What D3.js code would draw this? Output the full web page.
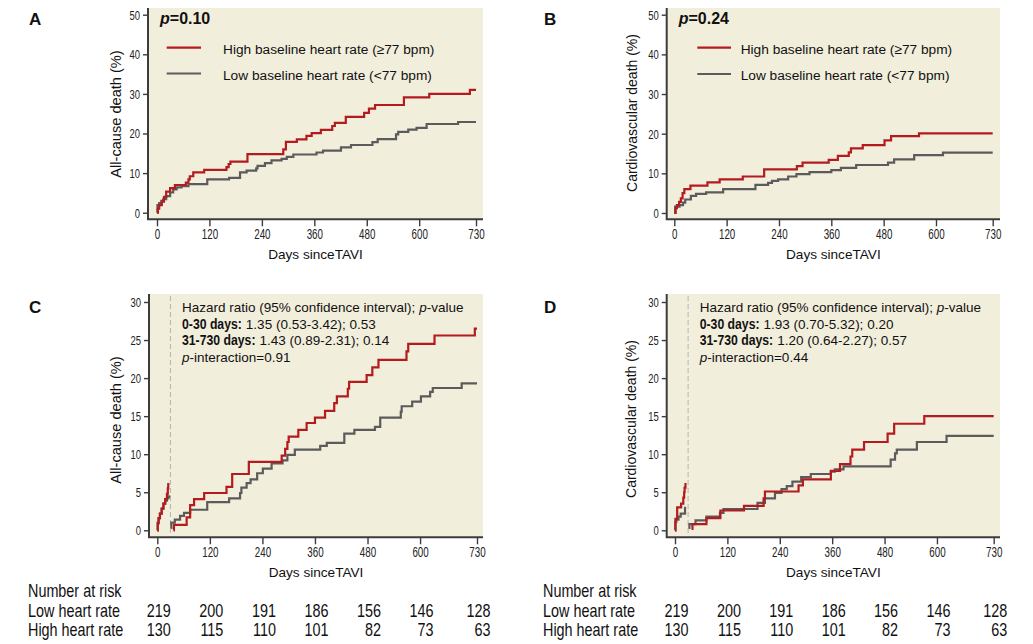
<!DOCTYPE html>
<html><head><meta charset="utf-8">
<script src="https://cdn.jsdelivr.net/npm/d3@7"></script>
<style>
body{margin:0;background:#fff;}
svg{display:block;}
</style></head><body>
<svg id="c" width="1033" height="644"></svg>
<script>
// ---------- data ----------
const dayTicks = [0, 120, 240, 360, 480, 600, 730];
const pctTicksTop = [0, 10, 20, 30, 40, 50];
const pctTicksBottom = [0, 5, 10, 15, 20, 25, 30];

// Panel A: all-cause death (%), [day, cumulative %]
const allCauseHigh = [[0,0],[2,1.0],[5,1.9],[11,2.8],[16,4.0],[21,5.3],[30,6.2],[41,7.0],[66,7.6],[72,8.4],[75,9.2],[83,10.2],[108,10.8],[159,11.5],[164,12.3],[168,12.9],[207,14.8],[289,16.0],[295,17.9],[320,18.5],[342,19.4],[354,20.1],[375,20.9],[401,21.9],[407,22.7],[432,24.2],[474,25.2],[485,26.3],[499,27.2],[565,29.1],[623,30.0],[716,31.0],[730,31.0]];
const allCauseLow = [[0,0],[1,1.9],[5,2.4],[10,3.0],[14,3.4],[21,4.2],[30,5.1],[37,5.9],[45,6.4],[56,6.7],[72,7.2],[115,8.4],[165,8.8],[190,10.2],[205,10.6],[227,11.2],[230,11.8],[247,12.5],[262,13.2],[285,13.6],[297,14.1],[312,14.7],[365,15.2],[380,15.7],[421,16.5],[444,17.1],[493,17.8],[505,18.6],[547,19.8],[552,20.4],[575,21.0],[594,21.4],[617,22.4],[689,22.9],[730,22.9]];

// Panel B: cardiovascular death (%)
const cvHigh = [[0,0],[3,1.2],[6,2.0],[11,2.8],[15,3.7],[19,5.0],[23,6.0],[37,6.9],[76,7.7],[104,8.5],[157,9.2],[206,11.0],[281,11.8],[294,12.7],[354,13.4],[375,14.4],[400,15.3],[405,16.3],[432,17.1],[482,18.3],[497,19.4],[561,20.1],[730,20.1]];
const cvLow = [[0,0],[2,1.6],[12,2.0],[20,2.6],[25,3.4],[38,4.3],[50,4.8],[73,5.2],[112,6.0],[186,7.1],[215,7.6],[224,8.1],[238,8.5],[261,9.2],[280,9.8],[310,10.3],[360,10.8],[382,11.4],[417,12.1],[490,12.7],[504,13.5],[550,14.6],[616,15.2],[730,15.2]];

// Panel C: landmark all-cause death (%), 0-30 and 31-730 days
const lmAllHighEarly = [[0,0],[1,0.9],[3,1.6],[6,2.2],[10,2.9],[14,3.5],[18,4.1],[22,4.8],[24,5.5],[25,6.2]];
const lmAllLowEarly = [[0,0],[1,1.0],[3,1.6],[6,2.2],[10,2.8],[14,3.5],[18,3.9],[22,4.2],[25,4.4],[27,4.6]];
const lmAllHighLate = [[37,0],[38,0.7],[67,1.7],[75,3.3],[84,4.1],[107,4.9],[158,5.7],[171,7.4],[209,9.0],[284,9.8],[292,10.7],[297,11.6],[300,12.3],[322,13.2],[341,14.1],[360,14.8],[383,15.7],[404,16.7],[410,17.6],[435,18.6],[438,19.5],[478,20.4],[491,21.4],[505,22.4],[569,23.5],[573,24.5],[633,25.6],[725,26.5],[730,26.5]];
const lmAllLowLate = [[31,0.3],[32,1.0],[40,1.4],[52,1.9],[61,2.3],[75,2.7],[114,3.7],[164,4.2],[189,4.9],[192,5.6],[204,6.2],[213,6.7],[228,7.5],[241,8.1],[261,8.8],[286,9.2],[297,9.9],[314,10.6],[372,11.1],[387,11.5],[427,12.7],[450,13.2],[497,13.6],[509,14.8],[556,15.6],[558,16.3],[582,16.9],[602,17.6],[623,18.2],[629,18.7],[695,19.3],[730,19.3]];

// Panel D: landmark cardiovascular death (%)
const lmCvHighEarly = [[0,0],[1,1.5],[5,3.0],[14,3.5],[19,4.3],[21,5.0],[22,5.6],[24,6.2]];
const lmCvLowEarly = [[0,0],[1,1.1],[3,1.4],[8,1.8],[13,2.2],[23,3.1]];
const lmCvHighLate = [[38,0.2],[40,0.8],[72,1.6],[104,2.6],[158,3.2],[203,4.2],[206,5.1],[283,5.9],[293,6.7],[357,7.8],[378,8.7],[402,9.7],[406,10.6],[433,11.6],[487,12.7],[502,14.0],[571,15.0],[730,15.0]];
const lmCvLowLate = [[31,0.3],[33,0.8],[47,1.3],[72,1.8],[103,2.3],[111,2.8],[189,3.6],[206,4.2],[229,4.9],[244,5.4],[256,5.8],[269,6.4],[289,7.0],[311,7.4],[357,7.7],[366,8.0],[386,8.4],[494,9.3],[504,10.1],[508,10.6],[554,11.6],[622,12.4],[730,12.4]];

// Number at risk
const riskTimes = [0, 120, 240, 360, 480, 600, 730];
const riskLow = [219, 200, 191, 186, 156, 146, 128];
const riskHigh = [130, 115, 110, 101, 82, 73, 63];

const legendLabels = ["High baseline heart rate (\u226577 bpm)", "Low baseline heart rate (<77 bpm)"];

// ---------- style ----------
const RED = "#b31b1f", GRAY = "#5b5b5b", BG = "#f2eedc", AX = "#3c3c3c";
const REG = "'Liberation Sans',Arial,sans-serif";
const TICK_SX = 0.7, TABLE_SX = 0.8;

const svg = d3.select("#c");

// horizontally condensed text
function cText(parent, x, y, str, size, sx, anchor, bold) {
  const g = parent.append("g").attr("transform", `translate(${x},${y}) scale(${sx},1)`);
  const t = g.append("text").attr("font-family", REG).attr("font-size", size).attr("fill", "#111")
    .attr("text-anchor", anchor || "start").attr("font-weight", bold ? "bold" : "normal").text(str);
  return t;
}

function panel(cfg) {
  const g = svg.append("g");
  const x = d3.scaleLinear().domain([0, 730]).range([cfg.x0, cfg.x1]);
  const y = d3.scaleLinear().domain([0, cfg.ymax]).range([cfg.y0, cfg.y1]);

  g.append("rect").attr("x", cfg.L).attr("y", cfg.T)
    .attr("width", cfg.R - cfg.L).attr("height", cfg.B - cfg.T).attr("fill", BG);

  if (cfg.landmark) {
    g.append("line").attr("x1", x(30)).attr("x2", x(30)).attr("y1", cfg.T + 2).attr("y2", cfg.B)
      .attr("stroke", "#b4b4b4").attr("stroke-width", 1).attr("stroke-dasharray", "5,3");
  }

  const xa = g.append("g").attr("transform", `translate(0,${cfg.B})`)
    .call(d3.axisBottom(x).tickValues(dayTicks).tickSize(7).tickSizeOuter(0).tickPadding(3));
  xa.select(".domain").remove();
  xa.selectAll("line").attr("stroke", AX).attr("stroke-width", 1.4);
  xa.selectAll("text").attr("font-family", REG).attr("font-size", 14).attr("fill", "#222")
    .attr("transform", `scale(${TICK_SX},1)`);

  const ya = g.append("g").attr("transform", `translate(${cfg.L},0)`)
    .call(d3.axisLeft(y).tickValues(cfg.yticks).tickSize(5).tickSizeOuter(0).tickPadding(3));
  ya.select(".domain").remove();
  ya.selectAll("line").attr("stroke", AX).attr("stroke-width", 1.4);
  ya.selectAll("text").attr("font-family", REG).attr("font-size", 13.5).attr("fill", "#222")
    .attr("x", -8 / TICK_SX).attr("transform", `scale(${TICK_SX},1)`);

  g.append("path").attr("d", `M${cfg.L},${cfg.T}V${cfg.B}H${cfg.R}`)
    .attr("fill", "none").attr("stroke", AX).attr("stroke-width", 2);

  const line = d3.line().x(d => x(d[0])).y(d => y(d[1])).curve(d3.curveStepAfter);
  cfg.series.forEach(s => {
    g.append("path").attr("d", line(s.data)).attr("fill", "none")
      .attr("stroke", s.color).attr("stroke-width", 2.2);
  });

  // axis titles
  g.append("text").attr("x", (cfg.L + cfg.R) / 2).attr("y", cfg.B + 40)
    .attr("text-anchor", "middle").attr("font-family", REG).attr("font-size", 13.6).attr("fill", "#111")
    .text("Days sinceTAVI");
  g.append("text").attr("transform", `translate(${cfg.ytX},${cfg.ytY}) rotate(-90)`)
    .attr("text-anchor", "middle").attr("font-family", REG).attr("font-size", cfg.ytSize).attr("fill", "#111")
    .text(cfg.ytitle);

  // panel letter
  g.append("text").attr("x", cfg.letterX).attr("y", cfg.letterY)
    .attr("font-family", REG).attr("font-weight", "bold").attr("font-size", 17).attr("fill", "#111")
    .text(cfg.letter);

  if (cfg.pval) {
    const t = g.append("text").attr("x", cfg.L + 12).attr("y", cfg.T + 16)
      .attr("font-family", REG).attr("font-weight", "bold").attr("font-size", 16).attr("fill", "#111");
    t.append("tspan").attr("font-style", "italic").text("p");
    t.append("tspan").text("=" + cfg.pval);

    legendLabels.forEach((lab, i) => {
      const ly = cfg.legY[i];
      g.append("line").attr("x1", cfg.L + cfg.legL0).attr("x2", cfg.L + cfg.legL1)
        .attr("y1", ly).attr("y2", ly).attr("stroke", i === 0 ? RED : GRAY).attr("stroke-width", 2.2);
      g.append("text").attr("x", cfg.L + cfg.legT).attr("y", ly + 6)
        .attr("font-family", REG).attr("font-size", 13.7).attr("fill", "#111").text(lab);
    });
  }

  if (cfg.hr) {
    const bx = cfg.L + 33, by = cfg.T + 18, dy = 16.6;
    const t0 = g.append("text").attr("x", bx).attr("y", by).attr("font-family", REG).attr("font-size", 13.5).attr("fill", "#111");
    t0.append("tspan").text("Hazard ratio (95% confidence interval); ");
    t0.append("tspan").attr("font-style", "italic").text("p");
    t0.append("tspan").text("-value");
    cfg.hr.forEach((r, i) => {
      const yy = by + dy * (i + 1);
      const bsx = 0.875;
      const bt = cText(g, bx, yy, r[0], 14, bsx, "start", true);
      const w = bt.node().getComputedTextLength() * bsx;
      g.append("text").attr("x", bx + w + 4).attr("y", yy).attr("font-family", REG)
        .attr("font-size", 13.5).attr("fill", "#111").text(r[1]);
    });
    const t3 = g.append("text").attr("x", bx).attr("y", by + dy * 3).attr("font-family", REG).attr("font-size", 13.5).attr("fill", "#111");
    t3.append("tspan").attr("font-style", "italic").text("p");
    t3.append("tspan").text("-interaction=" + cfg.pint);
  }

  if (cfg.risk) {
    const rx = cfg.letterX - 1;
    const rows = [["Number at risk", null, 596.5], ["Low heart rate", riskLow, 617], ["High heart rate", riskHigh, 636]];
    rows.forEach(r => {
      cText(g, rx, r[2], r[0], 18, TABLE_SX, "start");
      if (r[1]) {
        r[1].forEach((v, i) => cText(g, x(riskTimes[i]) + 13.5, r[2], String(v), 18, TABLE_SX, "end"));
      }
    });
  }
}

panel({letter: "A", letterX: 29, letterY: 25, L: 148, R: 483, T: 8, B: 219.3,
  x0: 157, x1: 476, y0: 212.7, y1: 14.7, ymax: 50, yticks: pctTicksTop,
  ytitle: "All-cause death (%)", ytX: 121, ytY: 114, ytSize: 14.6, pval: "0.10",
  legL0: 18.7, legL1: 53, legT: 75, legY: [47.7, 73.5],
  series: [{data: allCauseLow, color: GRAY}, {data: allCauseHigh, color: RED}]});

panel({letter: "B", letterX: 544, letterY: 25, L: 666.7, R: 1000, T: 8, B: 219.3,
  x0: 674.3, x1: 992.7, y0: 213, y1: 14.7, ymax: 50, yticks: pctTicksTop,
  ytitle: "Cardiovascular death (%)", ytX: 636.5, ytY: 113, ytSize: 14, pval: "0.24",
  legL0: 30.6, legL1: 64.3, legT: 74, legY: [47.7, 74],
  series: [{data: cvLow, color: GRAY}, {data: cvHigh, color: RED}]});

panel({letter: "C", letterX: 29, letterY: 313, L: 149, R: 483, T: 294, B: 537.3,
  x0: 157.3, x1: 477, y0: 530.3, y1: 302, ymax: 30, yticks: pctTicksBottom,
  ytitle: "All-cause death (%)", ytX: 120.5, ytY: 420, ytSize: 14.6, landmark: true, risk: true,
  hr: [["0-30 days:", "1.35 (0.53-3.42); 0.53"], ["31-730 days:", "1.43 (0.89-2.31); 0.14"]], pint: "0.91",
  series: [{data: lmAllLowEarly, color: GRAY}, {data: lmAllHighEarly, color: RED},
           {data: lmAllLowLate, color: GRAY}, {data: lmAllHighLate, color: RED}]});

panel({letter: "D", letterX: 544, letterY: 313, L: 666.7, R: 1000, T: 294, B: 537.3,
  x0: 675, x1: 993.7, y0: 530.3, y1: 302, ymax: 30, yticks: pctTicksBottom,
  ytitle: "Cardiovascular death (%)", ytX: 636, ytY: 419, ytSize: 14, landmark: true, risk: true,
  hr: [["0-30 days:", "1.93 (0.70-5.32); 0.20"], ["31-730 days:", "1.20 (0.64-2.27); 0.57"]], pint: "0.44",
  series: [{data: lmCvLowEarly, color: GRAY}, {data: lmCvHighEarly, color: RED},
           {data: lmCvLowLate, color: GRAY}, {data: lmCvHighLate, color: RED}]});
</script>
</body></html>
